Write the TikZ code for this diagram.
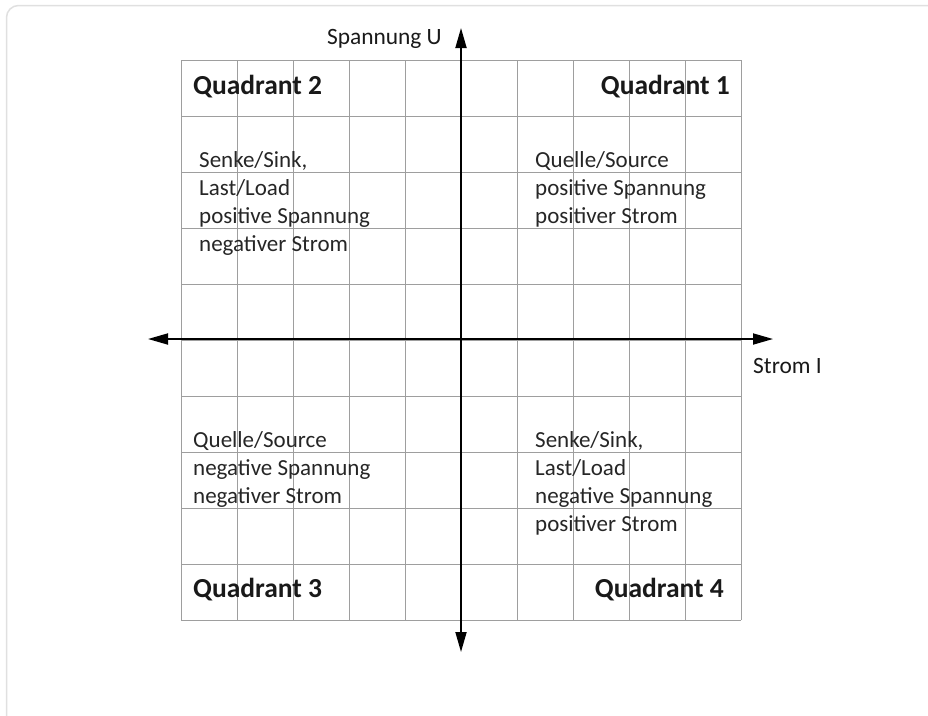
\documentclass[tikz,border=0pt]{standalone}
\usepackage{fontspec}
\setmainfont{Carlito}
\usetikzlibrary{arrows.meta}

\begin{document}
\begin{tikzpicture}[
        x=1pt, y=-1pt,
        gridline/.style={draw=black!38, line width=1pt},
        axis/.style={
            line width=1.8pt,
            {Triangle[length=20pt,width=11pt]}-{Triangle[length=20pt,width=11pt]}
        },
        quadlabel/.style={font=\fontsize{27.5}{30}\selectfont\bfseries, text=black!90, inner sep=0pt},
        note/.style={font=\fontsize{23}{28}\selectfont, text=black!85, align=left, inner sep=0pt},
        axislabel/.style={font=\fontsize{23.4}{28}\selectfont, text=black!90, inner sep=0pt}
    ]
    \useasboundingbox (0,0) rectangle (928,715);

    % Rahmen
    \draw[black!12, line width=1.5pt, rounded corners=12] (6.5,720) |- (935,5.5);

    % Raster
    \foreach \x in {181,237,...,741} \draw[gridline] (\x,60) -- (\x,620);
    \foreach \y in {60,116,...,620} \draw[gridline] (181,\y) -- (741,\y);

    % Achsen
    \coordinate (left)   at (148,339);
    \coordinate (right)  at (773,339);
    \coordinate (top)    at (461,28);
    \coordinate (bottom) at (461,652);
    \draw[axis] (left) -- (right);
    \draw[axis] (bottom) -- (top);

    % Achsenbeschriftung
    \node[axislabel, anchor=base east] (ulabel) at (442,44)  {Spannung U};
    \node[axislabel, anchor=base west] (ilabel) at (753,373) {Strom I};

    % Quadranten
    \node[quadlabel, anchor=base west] (q2) at (193,94)  {Quadrant 2};
    \node[quadlabel, anchor=base east] (q1) at (730,94)  {Quadrant 1};
    \node[quadlabel, anchor=base west] (q3) at (193,597) {Quadrant 3};
    \node[quadlabel, anchor=base east] (q4) at (724,597) {Quadrant 4};

    % Beschreibungen (Basislinie der letzten Zeile)
    \node[note, anchor=base west] (n2) at (199,251)
        {Senke/Sink,\\Last/Load\\positive Spannung\\negativer Strom};
    \node[note, anchor=base west] (n1) at (535,223)
        {Quelle/Source\\positive Spannung\\positiver Strom};
    \node[note, anchor=base west] (n3) at (193,503)
        {Quelle/Source\\negative Spannung\\negativer Strom};
    \node[note, anchor=base west] (n4) at (535,531)
        {Senke/Sink,\\Last/Load\\negative Spannung\\positiver Strom};

\end{tikzpicture}
\end{document}
